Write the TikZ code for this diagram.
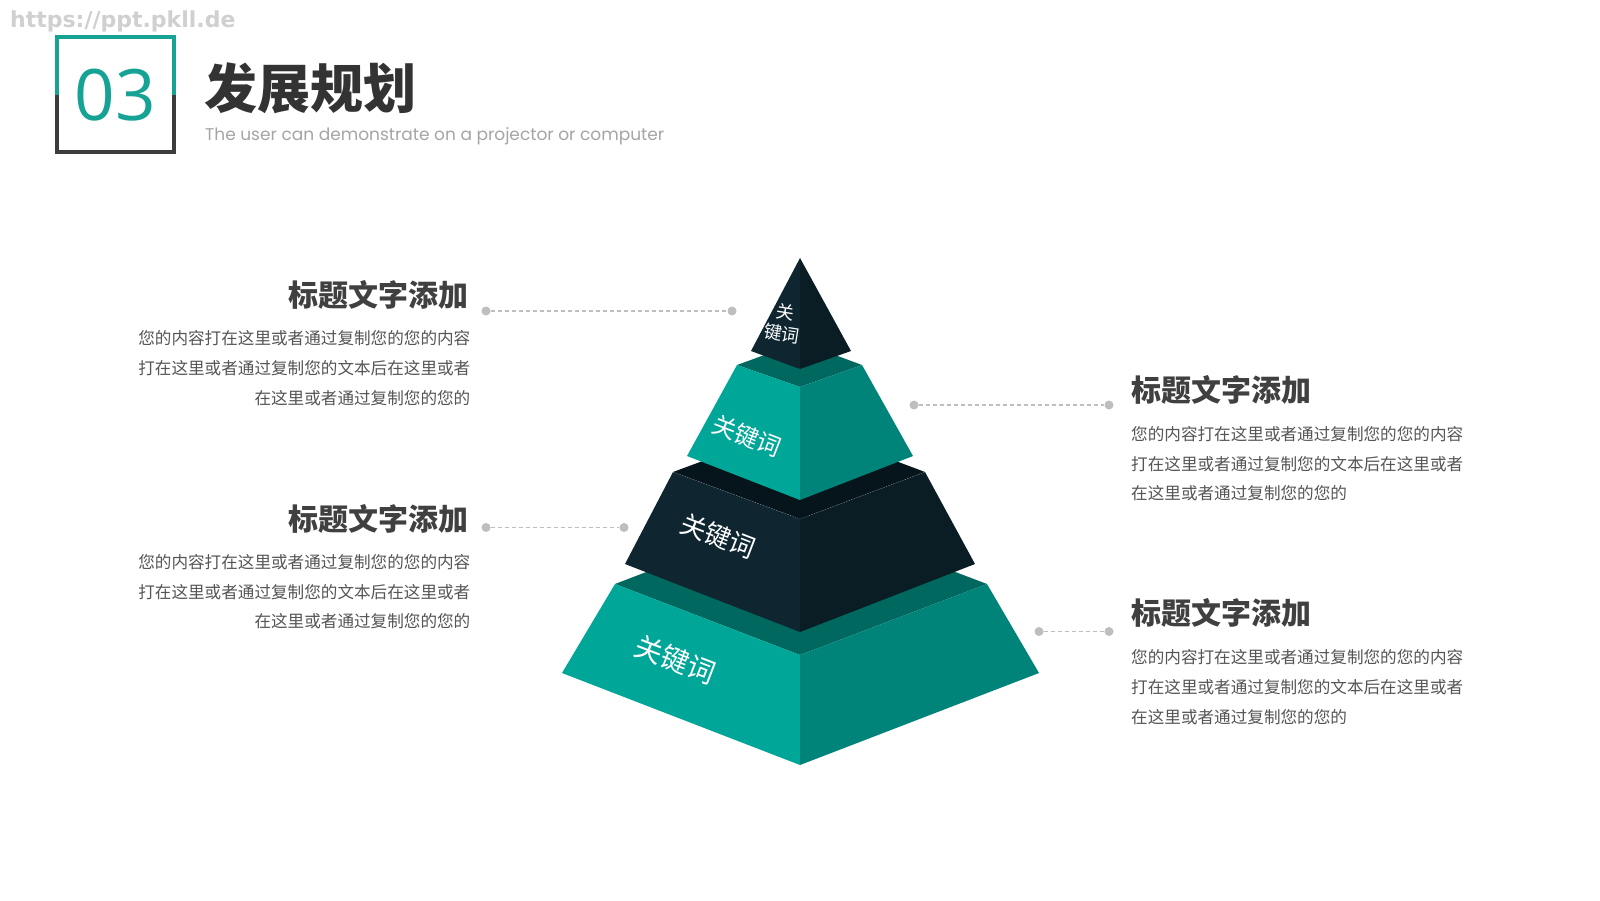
\documentclass[tikz,border=0pt]{standalone}
\usepackage{fontspec}
\setmainfont{Open Sans}
\newfontfamily\cjk{Noto Sans CJK SC}
\newfontfamily\pop{Poppins}
\newfontfamily\wmfont{DejaVu Sans}
\definecolor{tealbox}{RGB}{22,163,150}
\definecolor{graybox}{RGB}{60,60,60}
\definecolor{wmgray}{RGB}{208,208,208}
\definecolor{subgray}{RGB}{165,165,165}
\definecolor{titlegray}{RGB}{51,51,51}
\definecolor{headgray}{RGB}{64,64,64}
\definecolor{bodygray}{RGB}{85,85,85}
\definecolor{dotgray}{RGB}{190,190,190}
\definecolor{tealL}{RGB}{0,166,151}
\definecolor{tealR}{RGB}{0,131,121}
\definecolor{tealT}{RGB}{0,104,95}
\definecolor{dkL}{RGB}{15,38,49}
\definecolor{dkR}{RGB}{10,28,36}
\definecolor{dkT}{RGB}{6,21,27}
\begin{document}
\begin{tikzpicture}[x=1pt,y=-1pt,
  dotn/.style={circle,fill=dotgray,inner sep=0pt,minimum size=9pt},
  conn/.style={draw=dotgray,line width=1.3pt,dash pattern=on 4pt off 3pt},
  headtxt/.style={font=\cjk\bfseries\fontsize{30}{36}\selectfont,text=headgray,inner sep=0pt},
  bodytxt/.style={font=\cjk\fontsize{16.6}{29.8}\selectfont,text=bodygray,inner sep=0pt},
  kw/.style={text=white,inner sep=0pt}
]
\fill[white] (0,0) rectangle (1600,900);
\useasboundingbox (0,0) rectangle (1600,900);

% watermark
\node[font=\wmfont\bfseries\fontsize{22}{26}\selectfont,text=wmgray,anchor=west,inner sep=0pt] (wm) at (10,21) {https://ppt.pkll.de};

% number box
\draw[line width=4pt,tealbox] (57,94.5) -- (57,37) -- (173.5,37) -- (173.5,94.5);
\draw[line width=4pt,graybox] (57,94.5) -- (57,152) -- (173.5,152) -- (173.5,94.5);
\node[font=\fontsize{71}{80}\selectfont,text=tealbox] (num) at (115.5,95) {03};

% heading
\node[font=\cjk\bfseries\fontsize{53}{60}\selectfont,text=titlegray,anchor=west,inner sep=0pt] (title) at (204,88) {发展规划};
\node[font=\pop\fontsize{17}{20}\selectfont,text=subgray,anchor=west,inner sep=0pt] (sub) at (205,136) {The user can demonstrate on a projector or computer};

% pyramid tier 4
\fill[tealT] (615,584) -- (800,513) -- (987,584) -- (800,655) -- cycle;
\fill[tealL] (615,584) -- (800,655) -- (800,765) -- (562,673) -- cycle;
\fill[tealR] (800,655) -- (987,584) -- (1039,673) -- (800,765) -- cycle;
% tier 3
\fill[dkT] (673,472) -- (800,425) -- (925,472) -- (800,519) -- cycle;
\fill[dkL] (673,472) -- (800,519) -- (800,632) -- (625,564) -- cycle;
\fill[dkR] (800,519) -- (925,472) -- (975,564) -- (800,632) -- cycle;
\draw[white,opacity=0.35,line width=0.5pt,dash pattern=on 1pt off 1.5pt] (673,472) -- (800,519) -- (925,472);
% tier 2
\fill[tealT] (737,365) -- (800,342) -- (862,365) -- (800,387) -- cycle;
\fill[tealL] (737,365) -- (800,387) -- (800,500) -- (687,456) -- cycle;
\fill[tealR] (800,387) -- (862,365) -- (913,456) -- (800,500) -- cycle;
% top
\fill[dkL] (800,258) -- (751,351) -- (800,369) -- cycle;
\fill[dkR] (800,258) -- (800,369) -- (851,351) -- cycle;

% keywords
\node[kw,font=\cjk\fontsize{18}{21}\selectfont,align=center,rotate=-9] (k1) at (783.5,323) {关\\键词};
\node[kw,font=\cjk\fontsize{24}{28}\selectfont,rotate=-21] (k2) at (747,436) {关键词};
\node[kw,font=\cjk\fontsize{26}{30}\selectfont,rotate=-21] (k3) at (718,536) {关键词};
\node[kw,font=\cjk\fontsize{28}{32}\selectfont,rotate=-21] (k4) at (675.5,660) {关键词};

% connectors
\node[dotn] (d1a) at (486,311) {};
\node[dotn] (d1b) at (732,311) {};
\draw[conn] (d1a) -- (d1b);
\node[dotn] (d2a) at (486,527.5) {};
\node[dotn] (d2b) at (624,527.5) {};
\draw[conn] (d2a) -- (d2b);
\node[dotn] (d3a) at (914,405) {};
\node[dotn] (d3b) at (1109,405) {};
\draw[conn] (d3a) -- (d3b);
\node[dotn] (d4a) at (1039,631.5) {};
\node[dotn] (d4b) at (1109,631.5) {};
\draw[conn] (d4a) -- (d4b);

% text blocks
\node[headtxt,anchor=east] (h1) at (469,295) {标题文字添加};
\node[bodytxt,anchor=north east,align=right] (b1) at (470.5,330.5) {您的内容打在这里或者通过复制您的您的内容\\打在这里或者通过复制您的文本后在这里或者\\在这里或者通过复制您的您的};
\node[headtxt,anchor=east] (h2) at (469,518.5) {标题文字添加};
\node[bodytxt,anchor=north east,align=right] (b2) at (470.5,554) {您的内容打在这里或者通过复制您的您的内容\\打在这里或者通过复制您的文本后在这里或者\\在这里或者通过复制您的您的};
\node[headtxt,anchor=west] (h3) at (1131,390) {标题文字添加};
\node[bodytxt,anchor=north west,align=left] (b3) at (1131,426) {您的内容打在这里或者通过复制您的您的内容\\打在这里或者通过复制您的文本后在这里或者\\在这里或者通过复制您的您的};
\node[headtxt,anchor=west] (h4) at (1131,613.3) {标题文字添加};
\node[bodytxt,anchor=north west,align=left] (b4) at (1131,649.5) {您的内容打在这里或者通过复制您的您的内容\\打在这里或者通过复制您的文本后在这里或者\\在这里或者通过复制您的您的};
\end{tikzpicture}
\end{document}
